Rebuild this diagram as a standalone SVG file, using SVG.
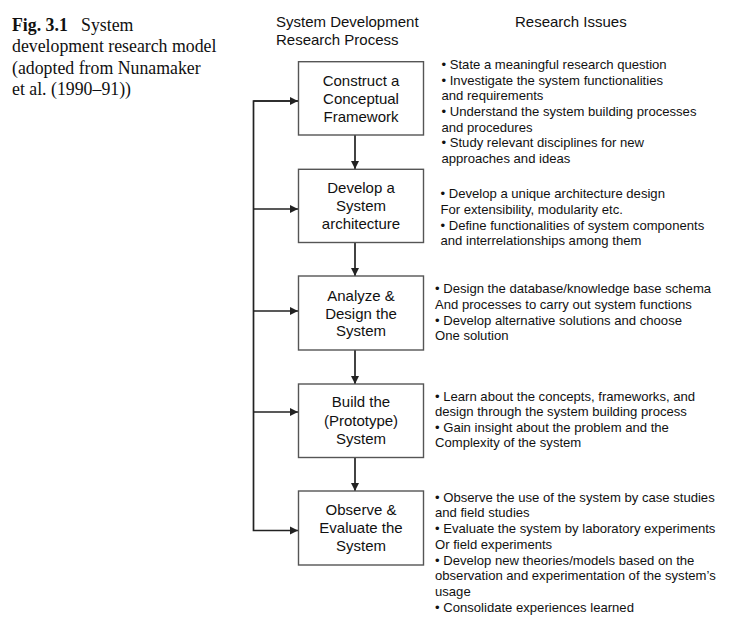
<svg xmlns="http://www.w3.org/2000/svg" width="745" height="632" viewBox="0 0 745 632">
<style>
.cap{font-family:"Liberation Serif","Times New Roman",serif;font-size:17.8px;fill:#111}
.hd{font-family:"Liberation Sans",Arial,sans-serif;font-size:15px;fill:#111}
.bx{fill:#fff;stroke:#555;stroke-width:1.4}
.bt{font-family:"Liberation Sans",Arial,sans-serif;font-size:15px;fill:#111;text-anchor:middle}
.it{font-family:"Liberation Sans",Arial,sans-serif;font-size:13.1px;fill:#111}
.ln{fill:none;stroke:#222;stroke-width:1.7}
</style>
<defs>
<marker id="ah" viewBox="0 0 10 10" refX="10" refY="5" markerWidth="5" markerHeight="5" orient="auto" markerUnits="strokeWidth">
<path d="M0,0 L10,5 L0,10 z" fill="#222"/>
</marker>
</defs>
<rect width="745" height="632" fill="#fff"/>
<g id="caption">
<text class="cap" x="12" y="30.5"><tspan font-weight="bold">Fig. 3.1</tspan><tspan x="81">System</tspan></text>
<text class="cap" x="12" y="52">development research model</text>
<text class="cap" x="12" y="73.5">(adopted from Nunamaker</text>
<text class="cap" x="12" y="95">et al. (1990–91))</text>
</g>
<g id="headers">
<text class="hd" x="276" y="27">System Development</text>
<text class="hd" x="276" y="44.5">Research Process</text>
<text class="hd" x="515" y="26.7">Research Issues</text>
</g>
<g id="connectors">
<path class="ln" d="M355,135 V169" marker-end="url(#ah)"/>
<path class="ln" d="M355,242.5 V276" marker-end="url(#ah)"/>
<path class="ln" d="M355,350 V384" marker-end="url(#ah)"/>
<path class="ln" d="M355,457.5 V491" marker-end="url(#ah)"/>
<path class="ln" d="M298,101 H253.5 V530.5 H298" marker-end="url(#ah)"/>
<path class="ln" d="M253.5,209 H298" marker-end="url(#ah)"/>
<path class="ln" d="M253.5,311 H298" marker-end="url(#ah)"/>
<path class="ln" d="M253.5,412 H298" marker-end="url(#ah)"/>
<path class="ln" d="M253.5,101 H298" marker-end="url(#ah)"/>
</g>
<g id="n1">
<rect class="bx" x="298.5" y="61.7" width="125" height="73.3"/>
<text class="bt" x="361" y="86">Construct a</text>
<text class="bt" x="361" y="104">Conceptual</text>
<text class="bt" x="361" y="122">Framework</text>
</g>
<g id="n2">
<rect class="bx" x="298.5" y="169.3" width="125" height="73.2"/>
<text class="bt" x="361" y="193.3">Develop a</text>
<text class="bt" x="361" y="211">System</text>
<text class="bt" x="361" y="228.7">architecture</text>
</g>
<g id="n3">
<rect class="bx" x="298.5" y="276" width="125" height="74"/>
<text class="bt" x="361" y="300.7">Analyze &amp;</text>
<text class="bt" x="361" y="318.5">Design the</text>
<text class="bt" x="361" y="336.3">System</text>
</g>
<g id="n4">
<rect class="bx" x="298.5" y="384" width="125" height="73.5"/>
<text class="bt" x="361" y="407">Build the</text>
<text class="bt" x="361" y="425.5">(Prototype)</text>
<text class="bt" x="361" y="444">System</text>
</g>
<g id="n5">
<rect class="bx" x="298.5" y="491" width="125" height="74"/>
<text class="bt" x="361" y="515.3">Observe &amp;</text>
<text class="bt" x="361" y="533.3">Evaluate the</text>
<text class="bt" x="361" y="551.3">System</text>
</g>
<g id="issues1">
<text class="it" x="441.5" y="69">• State a meaningful research question</text>
<text class="it" x="441.5" y="84.7">• Investigate the system functionalities</text>
<text class="it" x="441.5" y="100.4">and requirements</text>
<text class="it" x="441.5" y="116">• Understand the system building processes</text>
<text class="it" x="441.5" y="131.7">and procedures</text>
<text class="it" x="441.5" y="147.4">• Study relevant disciplines for new</text>
<text class="it" x="441.5" y="163.1">approaches and ideas</text>
</g>
<g id="issues2">
<text class="it" x="440.5" y="198.3">• Develop a unique architecture design</text>
<text class="it" x="440.5" y="213.9">For extensibility, modularity etc.</text>
<text class="it" x="440.5" y="229.5">• Define functionalities of system components</text>
<text class="it" x="440.5" y="245">and interrelationships among them</text>
</g>
<g id="issues3">
<text class="it" x="435" y="293.3">• Design the database/knowledge base schema</text>
<text class="it" x="435" y="308.9">And processes to carry out system functions</text>
<text class="it" x="435" y="324.5">• Develop alternative solutions and choose</text>
<text class="it" x="435" y="340.1">One solution</text>
</g>
<g id="issues4">
<text class="it" x="435" y="400.7">• Learn about the concepts, frameworks, and</text>
<text class="it" x="435" y="416.2">design through the system building process</text>
<text class="it" x="435" y="431.7">• Gain insight about the problem and the</text>
<text class="it" x="435" y="447.2">Complexity of the system</text>
</g>
<g id="issues5">
<text class="it" x="435" y="501.7">• Observe the use of the system by case studies</text>
<text class="it" x="435" y="517.4">and field studies</text>
<text class="it" x="435" y="533.1">• Evaluate the system by laboratory experiments</text>
<text class="it" x="435" y="548.8">Or field experiments</text>
<text class="it" x="435" y="564.5">• Develop new theories/models based on the</text>
<text class="it" x="435" y="580.2">observation and experimentation of the system’s</text>
<text class="it" x="435" y="595.9">usage</text>
<text class="it" x="435" y="611.6">• Consolidate experiences learned</text>
</g>
</svg>
